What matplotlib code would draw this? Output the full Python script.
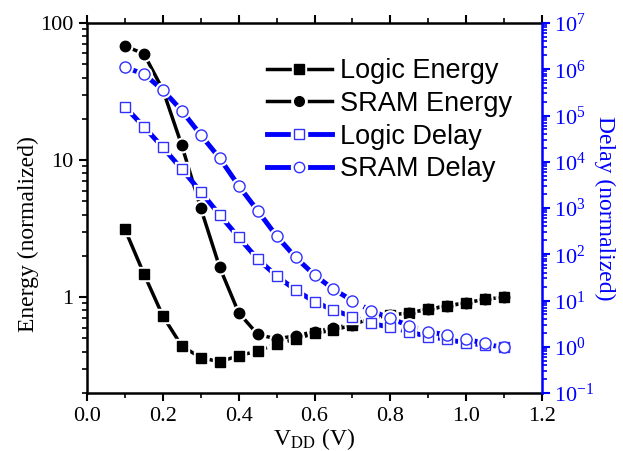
import matplotlib
matplotlib.use("Agg")
import matplotlib.pyplot as plt
import numpy as np
from matplotlib.lines import Line2D
from matplotlib.ticker import LogLocator, FuncFormatter, MultipleLocator, NullFormatter

plt.rcParams['font.family'] = ['Liberation Serif', 'DejaVu Serif']
plt.rcParams['mathtext.fontset'] = 'stix'

vdd = [0.10, 0.15, 0.20, 0.25, 0.30, 0.35, 0.40, 0.45, 0.50, 0.55, 0.60,
       0.65, 0.70, 0.75, 0.80, 0.85, 0.90, 0.95, 1.00, 1.05, 1.10]
logic_energy = [3.13, 1.48, 0.73, 0.44, 0.362, 0.338, 0.374, 0.405, 0.456, 0.493, 0.546,
                0.574, 0.627, 0.705, 0.74, 0.77, 0.817, 0.863, 0.91, 0.966, 1.0]
sram_energy = [68, 59.6, 32.6, 12.8, 4.46, 1.65, 0.77, 0.536, 0.495, 0.524, 0.56,
               0.60, 0.63, 0.70, 0.74, 0.77, 0.817, 0.863, 0.91, 0.966, 1.0]
logic_delay = [1.55e5, 5.7e4, 2.05e4, 6.9e3, 2.25e3, 706, 232, 79, 33.9, 16.9, 9.4,
               6.2, 4.47, 3.2, 2.63, 2.1, 1.65, 1.45, 1.19, 1.09, 1.0]
sram_delay = [1.1e6, 7.9e5, 3.56e5, 1.27e5, 3.8e4, 1.19e4, 3.03e3, 875, 248, 86, 35.6,
              17.5, 9.9, 6.0, 4.1, 2.85, 2.1, 1.8, 1.45, 1.19, 1.0]
# index where line style switches from solid to dashed
solid_until = {"le": 4, "se": 7, "ld": 12, "sd": 12}

labels = ["Logic Energy", "SRAM Energy", "Logic Delay", "SRAM Delay"]

BLUE = "#0000ff"

fig = plt.figure(figsize=(6.23, 4.51), dpi=100)
ax = fig.add_axes([87/623, (451-393)/451, (542-87)/623, (393-23)/451])
ax2 = ax.twinx()

def draw(a, y, k, color, marker, ms, filled, lw, mec):
    x = np.array(vdd); y = np.array(y)
    s = solid_until[k]
    a.plot(x[:s+1], y[:s+1], color=color, lw=lw, ls='-', zorder=2)
    a.plot(x[s:], y[s:], color=color, lw=lw, ls=(0, (1.6, 1.0)), zorder=2)
    a.plot(x, y, ls='none', marker=marker, ms=ms+3, mfc='white', mec='white', zorder=3)
    a.plot(x, y, ls='none', marker=marker, ms=ms,
           mfc=color if filled else 'white', mec=mec, mew=1.0, zorder=4)

draw(ax, logic_energy, "le", 'black', 's', 7, True, 2.5, 'black')
draw(ax, sram_energy, "se", 'black', 'o', 7.5, True, 2.5, 'black')
draw(ax2, logic_delay, "ld", BLUE, 's', 7.5, False, 3.5, '#3030ff')
draw(ax2, sram_delay, "sd", BLUE, 'o', 8, False, 3.5, '#3030ff')

ax.set_xlim(0.0, 1.2)
ax.set_yscale('log')
ax.set_ylim(0.2, 100)
ax2.set_yscale('log')
ax2.set_ylim(0.1, 1e7)

ax.xaxis.set_major_locator(MultipleLocator(0.2))
ax.xaxis.set_minor_locator(MultipleLocator(0.1))
ax.xaxis.set_major_formatter(FuncFormatter(lambda v, p: f"{v:.1f}"))
ax.yaxis.set_major_locator(LogLocator(base=10, numticks=10))
ax.yaxis.set_minor_locator(LogLocator(base=10, subs=np.arange(2, 10), numticks=20))
ax.yaxis.set_major_formatter(FuncFormatter(lambda v, p: f"{v:g}"))
ax.yaxis.set_minor_formatter(NullFormatter())
ax2.yaxis.set_major_locator(LogLocator(base=10, numticks=20))
ax2.yaxis.set_minor_locator(LogLocator(base=10, subs=np.arange(2, 10), numticks=30))
ax2.yaxis.set_minor_formatter(NullFormatter())
ax.xaxis.get_offset_text().set_visible(False)
ax2.xaxis.get_offset_text().set_visible(False)
ax2.yaxis.get_offset_text().set_visible(False)

ax.tick_params(axis='both', which='major', direction='out', length=6, width=1.5,
               labelsize=16, top=True, pad=4)
ax.tick_params(axis='both', which='minor', direction='out', length=3.5, width=1.2, top=True)
ax2.tick_params(axis='y', which='major', direction='out', length=6, width=1.5,
                labelsize=16, colors=BLUE, pad=3)
ax2.tick_params(axis='y', which='minor', direction='out', length=3.5, width=1.2, colors=BLUE)

for sp in ['left', 'bottom', 'top']:
    ax.spines[sp].set_linewidth(1.8)
ax.spines['right'].set_visible(False)
for sp in ['left', 'bottom', 'top']:
    ax2.spines[sp].set_visible(False)
ax2.spines['right'].set_linewidth(1.8)
ax2.spines['right'].set_color(BLUE)

ax.set_xlabel(r"V$_{\mathrm{DD}}$ (V)", fontsize=17, labelpad=0)
ax.set_ylabel("Energy (normalized)", fontsize=17)
ax.yaxis.set_label_coords(-0.105, 0.43)
ax2.set_ylabel("Delay (normalized)", fontsize=17, color=BLUE, rotation=270, labelpad=15)

def handle(color, marker, ms, filled, lw, mec):
    l1 = Line2D([], [], color=color, lw=lw)
    l2 = Line2D([], [], ls='none', marker=marker, ms=ms+4, mfc='white', mec='white')
    l3 = Line2D([], [], ls='none', marker=marker, ms=ms,
                mfc=color if filled else 'white', mec=mec, mew=1.0)
    return (l1, l2, l3)

handles = [handle('black', 's', 6.5, True, 2.5, 'black'),
           handle('black', 'o', 7, True, 2.5, 'black'),
           handle(BLUE, 's', 7, False, 3.5, '#3030ff'),
           handle(BLUE, 'o', 7.5, False, 3.5, '#3030ff')]
leg = ax.legend(handles, labels, loc='upper left', bbox_to_anchor=(0.395, 0.905),
                frameon=False, borderpad=0, borderaxespad=0, handlelength=2.4,
                handletextpad=0.3, labelspacing=0.25,
                prop={'family': 'Liberation Sans', 'size': 19.5})

fig.savefig("out.png", dpi=100)
